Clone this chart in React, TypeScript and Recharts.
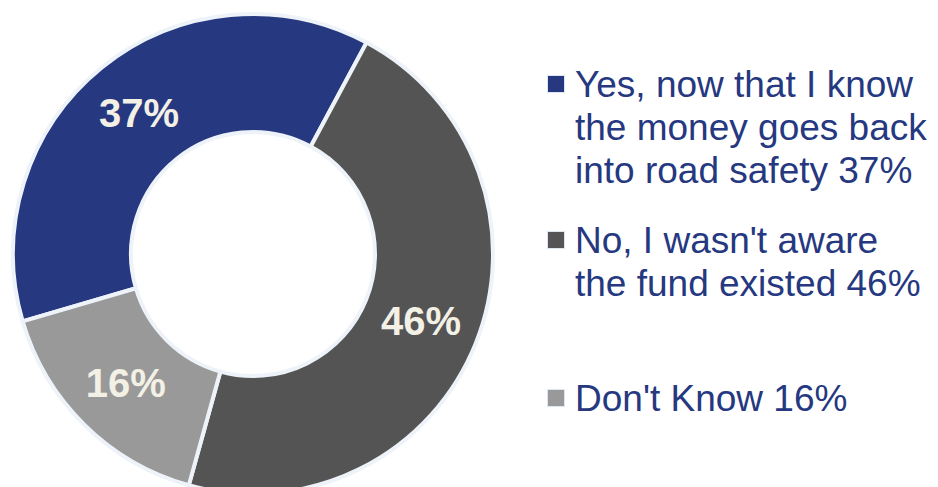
import React from 'react';
import { PieChart, Pie, Cell, Legend } from 'recharts';

const answers = [
  'Yes, now that I know\nthe money goes back\ninto road safety',
  "No, I wasn't aware\nthe fund existed",
  "Don't Know",
];
const shares = [37, 46, 16];
const sliceColors = ['#253880', '#545454', '#999999'];

const data = answers.map((name, i) => ({ name, value: shares[i] }));

const FONT = '"Liberation Sans", Arial, sans-serif';
const TEXT_BLUE = '#253880';
const RADIAN = Math.PI / 180;
// vertical placement of each legend entry, in px
const legendTops = [63, 219, 377];

function renderLabel(props: any) {
  const { cx, cy, midAngle, innerRadius, outerRadius, value } = props;
  const r = (innerRadius + outerRadius) / 2;
  const x = cx + r * Math.cos(-midAngle * RADIAN);
  const y = cy + r * Math.sin(-midAngle * RADIAN);
  return (
    <text
      x={x}
      y={y}
      fill="#F3F0E6"
      textAnchor="middle"
      dominantBaseline="central"
      fontFamily={FONT}
      fontWeight="bold"
      fontSize={40}
    >
      {`${value}%`}
    </text>
  );
}

function renderLegend() {
  return (
    <div style={{ position: 'relative', width: 392, height: 487 }}>
      {data.map((d, i) => (
        <div
          key={d.name}
          style={{ position: 'absolute', left: 0, top: legendTops[i], width: 392 }}
        >
          <div
            style={{
              position: 'absolute',
              left: 0,
              top: 12,
              width: 16,
              height: 16,
              background: sliceColors[i],
              border: '1.5px solid #DCE6F2',
            }}
          />
          <div
            style={{
              position: 'absolute',
              left: 28,
              top: 0,
              whiteSpace: 'pre',
              fontFamily: FONT,
              fontSize: 37,
              lineHeight: '43px',
              color: TEXT_BLUE,
            }}
          >
            {`${d.name} ${d.value}%`}
          </div>
        </div>
      ))}
    </div>
  );
}

export default function App() {
  return (
    <div style={{ position: 'absolute', left: 0, top: 0, width: 938, height: 487, background: '#fff' }}>
      <PieChart width={938} height={487} margin={{ top: 0, right: 0, bottom: 0, left: 0 }}>
        <Pie
          data={data}
          dataKey="value"
          nameKey="name"
          cx={253}
          cy={254}
          innerRadius={122}
          outerRadius={240}
          startAngle={196.3}
          endAngle={-163.7}
          stroke="#EEF3FA"
          strokeWidth={4}
          label={renderLabel}
          labelLine={false}
          isAnimationActive={false}
        >
          {data.map((d, i) => (
            <Cell key={d.name} fill={sliceColors[i]} />
          ))}
        </Pie>
        <Legend
          content={renderLegend}
          wrapperStyle={{ position: 'absolute', left: 547, top: 0, width: 392, height: 487 }}
        />
      </PieChart>
    </div>
  );
}
